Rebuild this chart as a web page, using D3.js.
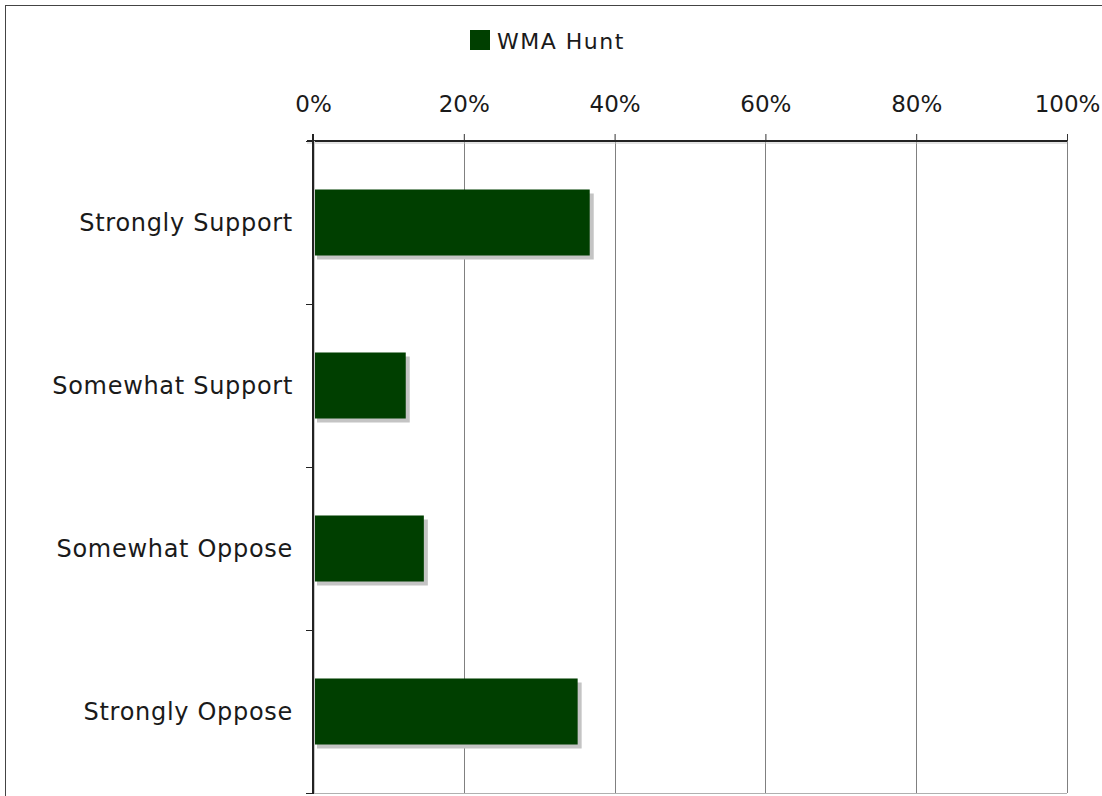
<!DOCTYPE html>
<html>
<head>
<meta charset="utf-8">
<script src="https://cdn.jsdelivr.net/npm/d3@7"></script>
<style>
  body { margin: 0; background: #fff; }
  svg { display: block; font-family: "DejaVu Sans", Verdana, sans-serif; }
</style>
</head>
<body>
<svg id="chart" width="1102" height="796"></svg>
<script>
var categories = ["Strongly Support", "Somewhat Support", "Somewhat Oppose", "Strongly Oppose"];
var values = [0.367, 0.123, 0.147, 0.351];
var seriesName = "WMA Hunt";
var tickValues = [0, 0.2, 0.4, 0.6, 0.8, 1];

var svg = d3.select('#chart');
var plotL = 313, plotR = 1067, plotT = 141, plotB = 793;

// outer frame (runs off the right and bottom of the picture)
svg.append('rect')
    .attr('x', 5.5).attr('y', 5.5)
    .attr('width', 1200).attr('height', 900)
    .attr('fill', 'none')
    .attr('stroke', '#444');

var x = d3.scaleLinear().domain([0, 1]).range([plotL, plotR]);
var y = d3.scaleBand().domain(categories).range([plotT, plotB])
    .paddingInner(0.595).paddingOuter(0.2975);

// gridlines
svg.append('g')
  .selectAll('line')
  .data(tickValues.slice(1))
  .enter().append('line')
    .attr('x1', function(d) { return Math.round(x(d)) + 0.5; })
    .attr('x2', function(d) { return Math.round(x(d)) + 0.5; })
    .attr('y1', plotT).attr('y2', plotB)
    .attr('stroke', '#808080');

// bottom edge of plot
svg.append('line')
    .attr('x1', plotL).attr('x2', plotR)
    .attr('y1', plotB + 0.5).attr('y2', plotB + 0.5)
    .attr('stroke', '#b0b0b0');

// bar shadows then bars
var bars = svg.append('g');
bars.selectAll('rect.shadow')
  .data(values)
  .enter().append('rect')
    .attr('class', 'shadow')
    .attr('x', x(0) + 4)
    .attr('y', function(d, i) { return y(categories[i]) + 4; })
    .attr('width', function(d) { return x(d) - x(0); })
    .attr('height', y.bandwidth())
    .attr('fill', '#c4c4c4');
bars.selectAll('rect.bar')
  .data(values)
  .enter().append('rect')
    .attr('class', 'bar')
    .attr('x', x(0))
    .attr('y', function(d, i) { return y(categories[i]); })
    .attr('width', function(d) { return x(d) - x(0); })
    .attr('height', y.bandwidth())
    .attr('fill', '#003f00');

// top axis
var xAxis = d3.axisTop(x)
    .tickValues(tickValues)
    .tickSize(7)
    .tickPadding(22)
    .tickFormat(d3.format('.0%'));
var gx = svg.append('g')
    .attr('transform', 'translate(0,' + plotT + ')')
    .call(xAxis);
gx.select('.domain').remove();
gx.selectAll('.tick line').attr('stroke', '#333');
gx.selectAll('.tick text')
    .attr('font-size', 23)
    .attr('font-family', '"DejaVu Sans", Verdana, sans-serif')
    .attr('fill', '#1a1a1a');
svg.append('line')
    .attr('x1', plotL - 6).attr('x2', plotR)
    .attr('y1', plotT + 2).attr('y2', plotT + 2)
    .attr('stroke', '#c8c8c8');
svg.append('line')
    .attr('x1', plotL - 6).attr('x2', plotR)
    .attr('y1', plotT).attr('y2', plotT)
    .attr('stroke', '#222').attr('stroke-width', 2);

// left axis: ticks at band boundaries
var boundaries = d3.range(categories.length + 1).map(function(i) { return plotT + i * y.step(); });
svg.append('g')
  .selectAll('line')
  .data(boundaries)
  .enter().append('line')
    .attr('x1', plotL - 7).attr('x2', plotL)
    .attr('y1', function(d) { return Math.round(d) + 0.5; })
    .attr('y2', function(d) { return Math.round(d) + 0.5; })
    .attr('stroke', '#222');
svg.append('line')
    .attr('x1', plotL + 1.5).attr('x2', plotL + 1.5)
    .attr('y1', plotT).attr('y2', plotB)
    .attr('stroke', '#c8c8c8');
svg.append('line')
    .attr('x1', plotL).attr('x2', plotL)
    .attr('y1', plotT - 7).attr('y2', plotB + 1)
    .attr('stroke', '#222').attr('stroke-width', 2);

// category labels
svg.append('g')
  .selectAll('text')
  .data(categories)
  .enter().append('text')
    .attr('x', 293)
    .attr('y', function(d) { return y(d) + y.bandwidth() / 2; })
    .attr('dy', '0.36em')
    .attr('text-anchor', 'end')
    .attr('font-size', 24)
    .attr('letter-spacing', 0.7)
    .attr('fill', '#1a1a1a')
    .text(function(d) { return d; });

// legend
var legend = svg.append('g').attr('transform', 'translate(470,30)');
legend.append('rect')
    .attr('width', 20).attr('height', 20)
    .attr('fill', '#003f00');
legend.append('text')
    .attr('x', 27).attr('y', 19)
    .attr('font-size', 22)
    .attr('letter-spacing', 1.5)
    .attr('fill', '#1a1a1a')
    .text(seriesName);
</script>
</body>
</html>
